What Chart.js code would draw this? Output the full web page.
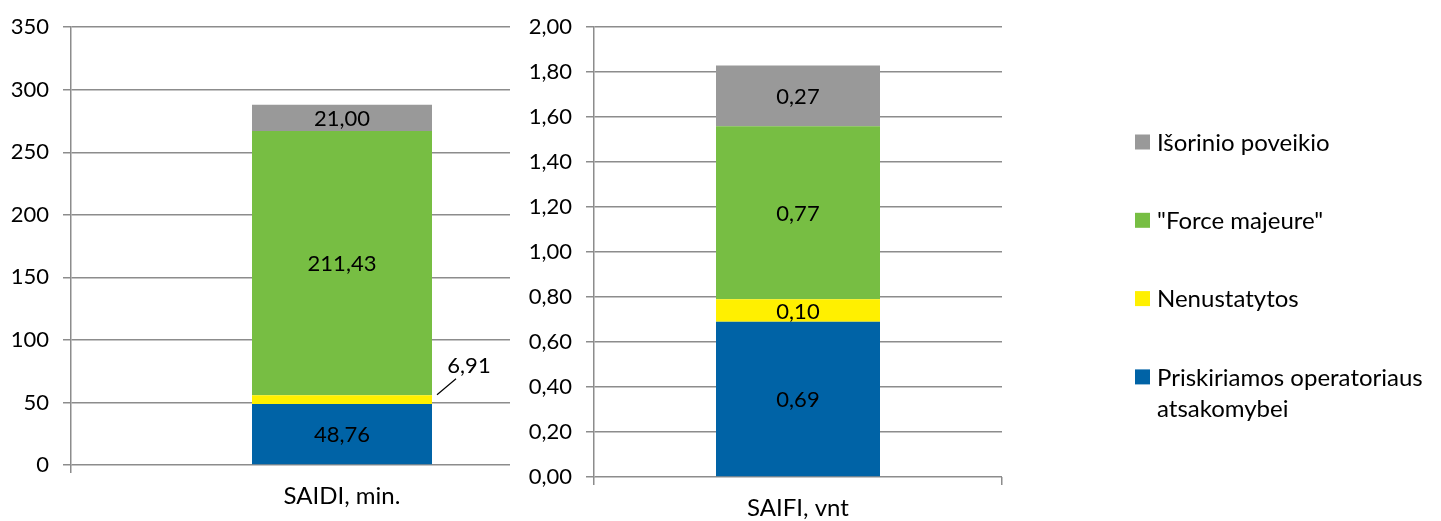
<!DOCTYPE html>
<html><head><meta charset="utf-8">
<script src="https://cdn.jsdelivr.net/npm/chart.js@4.4.1/dist/chart.umd.min.js"></script>
<style>
html,body{margin:0;padding:0;background:#fff;width:1441px;height:521px;overflow:hidden;}
#c1{position:absolute;left:0;top:0;}
#c2{position:absolute;left:510px;top:0;background:#fff;}
</style></head><body>
<canvas id="c1" width="620" height="521"></canvas>
<canvas id="c2" width="931" height="521"></canvas>
<script>
// ---- data ----
const seriesNames = ['Priskiriamos operatoriaus atsakomybei', 'Nenustatytos', '"Force majeure"', 'Išorinio poveikio'];
const seriesColors = ['#0063A6', '#FFF000', '#77BE43', '#999999'];
const saidiCategories = ['SAIDI, min.'];
const saidiValues = [48.76, 6.91, 211.43, 21.00];
const saifiCategories = ['SAIFI, vnt'];
const saifiValues = [0.69, 0.10, 0.77, 0.27];
const saidiTickLabels = ['0', '50', '100', '150', '200', '250', '300', '350'];
const saifiTickLabels = ['0,00', '0,20', '0,40', '0,60', '0,80', '1,00', '1,20', '1,40', '1,60', '1,80', '2,00'];

const FONT = 'Lato';
const FS_NUM = 22;
const FS_TXT = 24;
const GRID = '#8c8c8c';

function fmt(v) { return v.toFixed(2).replace('.', ','); }

const valueLabels = {
  id: 'valueLabels',
  afterDatasetsDraw(chart, args, opts) {
    const ctx = chart.ctx;
    ctx.save();
    ctx.font = FS_NUM + 'px ' + FONT;
    ctx.fillStyle = '#000';
    ctx.textAlign = 'center';
    ctx.textBaseline = 'middle';
    chart.data.datasets.forEach((ds, i) => {
      const meta = chart.getDatasetMeta(i);
      meta.data.forEach((bar, j) => {
        const txt = fmt(ds.data[j]);
        const cy = (bar.y + bar.base) / 2;
        const out = opts.outside && opts.outside[i];
        if (out) {
          const rx = bar.x + bar.width / 2;
          ctx.strokeStyle = '#000';
          ctx.lineWidth = 1.2;
          ctx.beginPath();
          ctx.moveTo(rx + out.l0[0], cy + out.l0[1]);
          ctx.lineTo(rx + out.l1[0], cy + out.l1[1]);
          ctx.stroke();
          ctx.fillText(txt, rx + out.t[0], cy + out.t[1]);
        } else {
          ctx.fillText(txt, bar.x, cy + 1);
        }
      });
    });
    ctx.restore();
  }
};

const sideLegend = {
  id: 'sideLegend',
  afterDraw(chart, args, opts) {
    if (!opts.show) return;
    const ctx = chart.ctx;
    ctx.save();
    ctx.font = FS_TXT + 'px ' + FONT;
    ctx.textBaseline = 'middle';
    ctx.textAlign = 'left';
    const n = chart.data.datasets.length;
    for (let k = 0; k < n; k++) {
      const i = n - 1 - k;
      const ds = chart.data.datasets[i];
      const cy = opts.y0 + k * opts.step;
      ctx.fillStyle = ds.backgroundColor;
      ctx.fillRect(opts.x, cy - 7.5, 15, 15);
      ctx.fillStyle = '#000';
      const words = ds.label.split(' ');
      const lines = [];
      let cur = '';
      words.forEach(w => {
        const t = cur ? cur + ' ' + w : w;
        if (ctx.measureText(t).width > opts.maxW && cur) { lines.push(cur); cur = w; } else cur = t;
      });
      lines.push(cur);
      lines.forEach((ln, li) => ctx.fillText(ln, opts.x + 22, cy + 1 + li * opts.lineH));
    }
    ctx.restore();
  }
};

function makeChart(id, cats, values, tickLabels, max, step, yW, xH, padRight, barPct, legend, outside) {
  return new Chart(document.getElementById(id), {
    type: 'bar',
    data: {
      labels: cats,
      datasets: seriesNames.map((n, i) => ({
        label: n,
        data: [values[i]],
        backgroundColor: seriesColors[i],
        borderWidth: 0,
        barPercentage: barPct,
        categoryPercentage: 1
      }))
    },
    options: {
      responsive: false,
      animation: false,
      events: [],
      layout: { padding: { top: 22, right: padRight, left: 0, bottom: 0 } },
      plugins: {
        legend: { display: false },
        tooltip: { enabled: false },
        valueLabels: { outside: outside },
        sideLegend: legend
      },
      scales: {
        x: {
          stacked: true,
          afterFit(s) { s.height = xH; },
          grid: { offset: true, drawOnChartArea: false, drawTicks: true, tickLength: 8, color: GRID, lineWidth: 1.5 },
          border: { display: false },
          ticks: { color: '#000', font: { family: FONT, size: FS_TXT }, padding: 9 }
        },
        y: {
          stacked: true,
          min: 0, max: max,
          afterFit(s) { s.width = yW; },
          afterBuildTicks(s) { s.ticks = tickLabels.map((t, k) => ({ value: k * step })); },
          grid: { color: GRID, lineWidth: 1.5, tickLength: 8 },
          border: { display: true, color: GRID, width: 1.5 },
          ticks: {
            color: '#000', font: { family: FONT, size: FS_NUM }, padding: 14,
            callback: (v, k) => tickLabels[k]
          }
        }
      }
    },
    plugins: [valueLabels, sideLegend]
  });
}

makeChart('c1', saidiCategories, saidiValues, saidiTickLabels, 350, 50, 71, 56, 7, 180 / 542,
  { show: false },
  { 1: { l0: [5, -5], l1: [24, -21], t: [37, -34] } });

makeChart('c2', saifiCategories, saifiValues, saifiTickLabels, 2, 0.2, 84, 44, 439, 164 / 408,
  { show: true, x: 625, y0: 142, step: 78.3, lineH: 31, maxW: 285 },
  {});
</script>
</body></html>
